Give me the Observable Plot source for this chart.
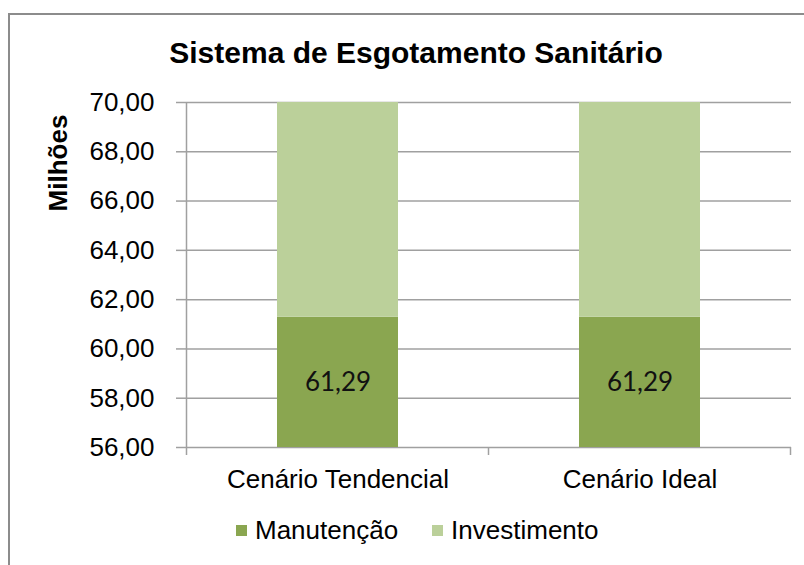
<!DOCTYPE html>
<html><head><meta charset="utf-8">
<script src="https://cdn.jsdelivr.net/npm/d3@7"></script>
<script src="https://cdn.jsdelivr.net/npm/@observablehq/plot@0.6"></script>
<style>
body{margin:0;background:#fff;}
#wrap{position:relative;width:804px;height:565px;overflow:hidden;font-family:"Liberation Sans",Arial,sans-serif;color:#000;}
#frame{position:absolute;left:8px;top:13px;width:900px;height:700px;border:2px solid #8c8c8c;box-sizing:border-box;}
#title{position:absolute;top:36px;left:0;width:832px;text-align:center;font-weight:bold;font-size:30px;}
#ylab{position:absolute;left:58px;top:163px;transform:translate(-50%,-50%) rotate(-90deg);font-weight:bold;font-size:26px;white-space:nowrap;}
#legend{position:absolute;top:515px;left:236px;font-size:26px;display:flex;align-items:center;white-space:nowrap;}
#legend .sw{display:inline-block;width:11px;height:11px;margin-right:8px;}
#chart{position:absolute;left:0;top:0;}
</style>
</head><body>
<div id="wrap">
  <div id="frame"></div>
  <div id="chart"></div>
  <div id="title">Sistema de Esgotamento Sanitário</div>
  <div id="ylab">Milhões</div>
  <div id="legend"></div>
</div>
<script>
const categories = ["Cenário Tendencial", "Cenário Ideal"];
const series = ["Manutenção", "Investimento"];
const manutencao = [61.29, 61.29];
const investimento = [8.71, 8.71];
const yTicks = [56, 58, 60, 62, 64, 66, 68, 70];
const colors = ["#8aa650", "#bbd09a"];

const data = [];
[manutencao, investimento].forEach((vals, si) =>
  categories.forEach((c, ci) => data.push({category: c, series: series[si], value: vals[ci]})));
const fmt = d => d.toFixed(2).replace(".", ",");
const yMin = d3.min(yTicks), yMax = d3.max(yTicks);

const axisLines = (index, scales, values, dims) => {
  const x = scales.x, y = scales.y;
  const step = x.step(), bw = x.bandwidth();
  const g = d3.create("svg:g").attr("stroke", "#a0a0a0").attr("stroke-width", 1.5);
  const y0 = y(yMin), y1 = y(yMax);
  const left = x(categories[0]) + bw / 2 - step / 2;
  g.append("line").attr("x1", left).attr("x2", left).attr("y1", y1).attr("y2", y0 + 8);
  categories.forEach(c => {
    const cx = x(c) + bw / 2 + step / 2;
    g.append("line").attr("x1", cx).attr("x2", cx).attr("y1", y0).attr("y2", y0 + 8);
  });
  return g.node();
};

const chart = Plot.plot({
  width: 804, height: 565,
  marginTop: 102, marginBottom: 118, marginLeft: 186, marginRight: 13,
  style: {fontFamily: "Liberation Sans, Arial, sans-serif", fontSize: "26px", background: "transparent", color: "#000"},
  x: {domain: categories, paddingInner: 0.6, paddingOuter: 0.3, label: null},
  y: {domain: [yMin, yMax], label: null},
  color: {domain: series, range: colors},
  marks: [
    Plot.ruleY(yTicks, {stroke: "#a0a0a0", strokeWidth: 1.5}),
    Plot.barY(data, {x: "category", y: "value", fill: "series", clip: true}),
    Plot.axisY({ticks: yTicks, tickFormat: fmt, tickSize: 10, tickPadding: 22, stroke: "#a0a0a0", strokeWidth: 1.5, fill: "#000", fontSize: 26, label: null}),
    Plot.axisX({tickSize: 0, tickPadding: 22, fill: "#000", fontSize: 26, label: null}),
    Plot.text(data.filter(d => d.series === series[0]), {x: "category", y: d => (yMin + d.value) / 2, text: d => fmt(d.value), fontFamily: "Lato", fontSize: 26, fill: "#111"}),
    axisLines
  ]
});
document.getElementById("chart").appendChild(chart);

const legend = document.getElementById("legend");
series.forEach((s, i) => {
  const item = document.createElement("span");
  item.style.display = "inline-flex";
  item.style.alignItems = "center";
  item.style.marginRight = i === 0 ? "34px" : "0";
  item.innerHTML = `<span class="sw" style="background:${colors[i]}"></span>${s}`;
  legend.appendChild(item);
});
</script>
</body></html>
